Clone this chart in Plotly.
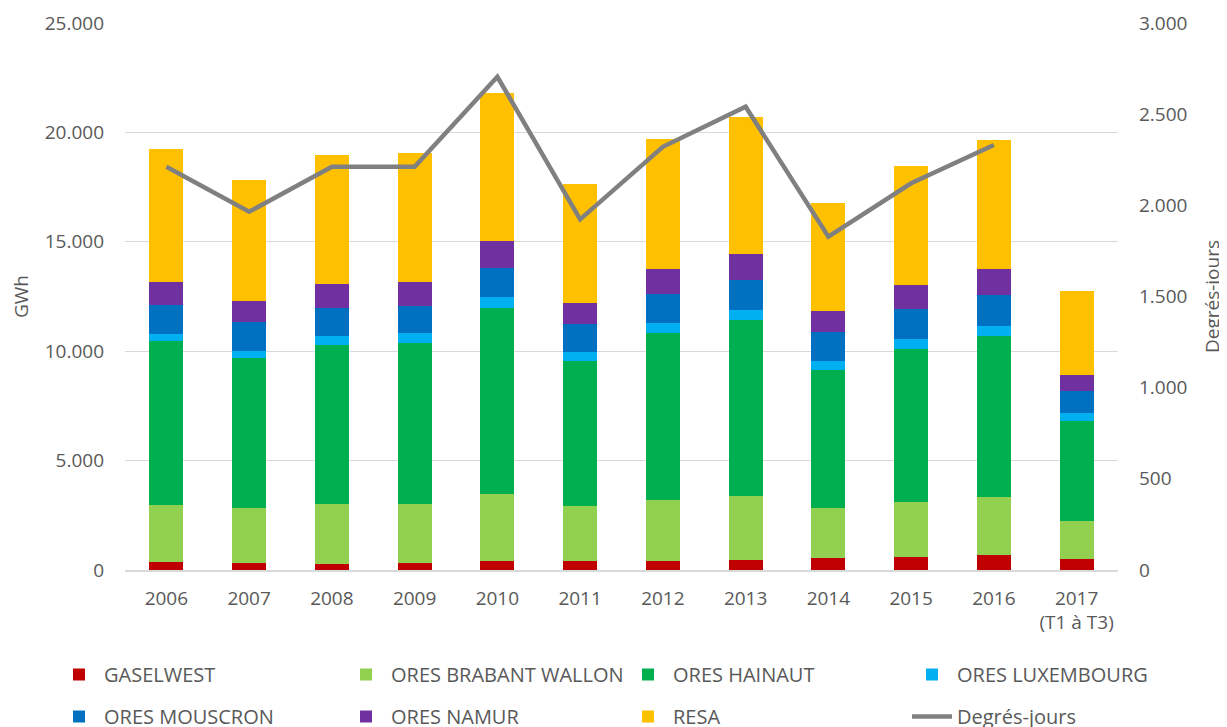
import plotly.graph_objects as go

YEARS = ["2006", "2007", "2008", "2009", "2010", "2011", "2012", "2013",
         "2014", "2015", "2016", "2017<br>(T1 à T3)"]

GASELWEST = [350, 335, 290, 335, 395, 425, 425, 470, 530, 610, 685, 485]
ORES_BRABANT_WALLON = [2605, 2500, 2730, 2700, 3080, 2515, 2790, 2895, 2290, 2515, 2670, 1740]
ORES_HAINAUT = [7490, 6845, 7255, 7330, 8490, 6600, 7605, 8050, 6310, 6965, 7330, 4605]
ORES_LUXEMBOURG = [350, 350, 400, 445, 490, 445, 475, 490, 430, 460, 475, 350]
ORES_MOUSCRON = [1325, 1295, 1315, 1265, 1360, 1265, 1340, 1360, 1310, 1370, 1400, 990]
ORES_NAMUR = [1065, 980, 1065, 1080, 1235, 975, 1110, 1190, 980, 1085, 1190, 750]
RESA = [6040, 5535, 5900, 5885, 6770, 5400, 5965, 6235, 4940, 5475, 5885, 3810]
DEGRES_JOURS = [2212, 1965, 2212, 2212, 2705, 1923, 2321, 2541, 1828, 2121, 2331, None]

INK = "#595959"
FONT = "Open Sans"

# (name, values, colour, legend slot)
series = [
    ("GASELWEST", GASELWEST, "#C00000", "legend"),
    ("ORES BRABANT WALLON", ORES_BRABANT_WALLON, "#92D050", "legend2"),
    ("ORES HAINAUT", ORES_HAINAUT, "#00B050", "legend3"),
    ("ORES LUXEMBOURG", ORES_LUXEMBOURG, "#00B0F0", "legend4"),
    ("ORES MOUSCRON", ORES_MOUSCRON, "#0070C0", "legend"),
    ("ORES NAMUR", ORES_NAMUR, "#7030A0", "legend2"),
    ("RESA", RESA, "#FFC000", "legend3"),
]

fig = go.Figure()
for name, vals, color, leg in series:
    fig.add_trace(go.Bar(
        x=YEARS, y=vals, name=name, marker=dict(color=color, line_width=0),
        legend=leg, legendgroup=name,
    ))

fig.add_trace(go.Scatter(
    x=YEARS, y=DEGRES_JOURS, name="Degrés-jours", mode="lines",
    line=dict(color="#808080", width=4.5), yaxis="y2",
    legend="legend4", legendgroup="dj",
))

# the page adds an 8px body margin, so the figure is drawn 8px smaller
W, H = 1219, 719
L, R, T, B = 117, 109, 15, 157
pw, ph = W - L - R, H - T - B


def px_x(x):
    return (x - L) / pw


def px_y(y):
    return (H - B - y) / ph


leg_style = dict(
    orientation="v", yanchor="top", xanchor="left",
    font=dict(family=FONT, size=20, color=INK),
    bgcolor="rgba(0,0,0,0)", tracegroupgap=13, itemwidth=40,
)
legend_x = [46, 333, 615, 899]
legends = {}
for key, x in zip(["legend", "legend2", "legend3", "legend4"], legend_x):
    legends[key] = dict(leg_style, x=px_x(x), y=px_y(647))

fig.update_layout(
    width=W, height=H,
    margin=dict(l=L, r=R, t=T, b=B, autoexpand=False),
    barmode="stack", bargap=0.59,
    plot_bgcolor="white", paper_bgcolor="white",
    separators=",.",
    font=dict(family=FONT, size=19, color=INK),
    xaxis=dict(
        showgrid=False, showline=True, linecolor="#D9D9D9", linewidth=1.5,
        ticks="", tickfont=dict(size=19, color=INK), ticklabelstandoff=10,
    ),
    yaxis=dict(
        range=[0, 25000], dtick=5000, tickformat=",d",
        showgrid=True, gridcolor="#D9D9D9", gridwidth=1.3,
        zeroline=False, ticks="", ticklabelstandoff=20,
        tickfont=dict(size=19, color=INK),
        title=dict(text="GWh", font=dict(size=19, color=INK), standoff=18),
    ),
    yaxis2=dict(
        range=[0, 3000], dtick=500, tickformat=",d", overlaying="y",
        side="right", showgrid=False, zeroline=False, ticks="",
        ticklabelstandoff=20, tickfont=dict(size=19, color=INK),
        title=dict(text="Degrés-jours", font=dict(size=19, color=INK), standoff=19),
    ),
    **legends,
)

fig.write_html("out.html")
